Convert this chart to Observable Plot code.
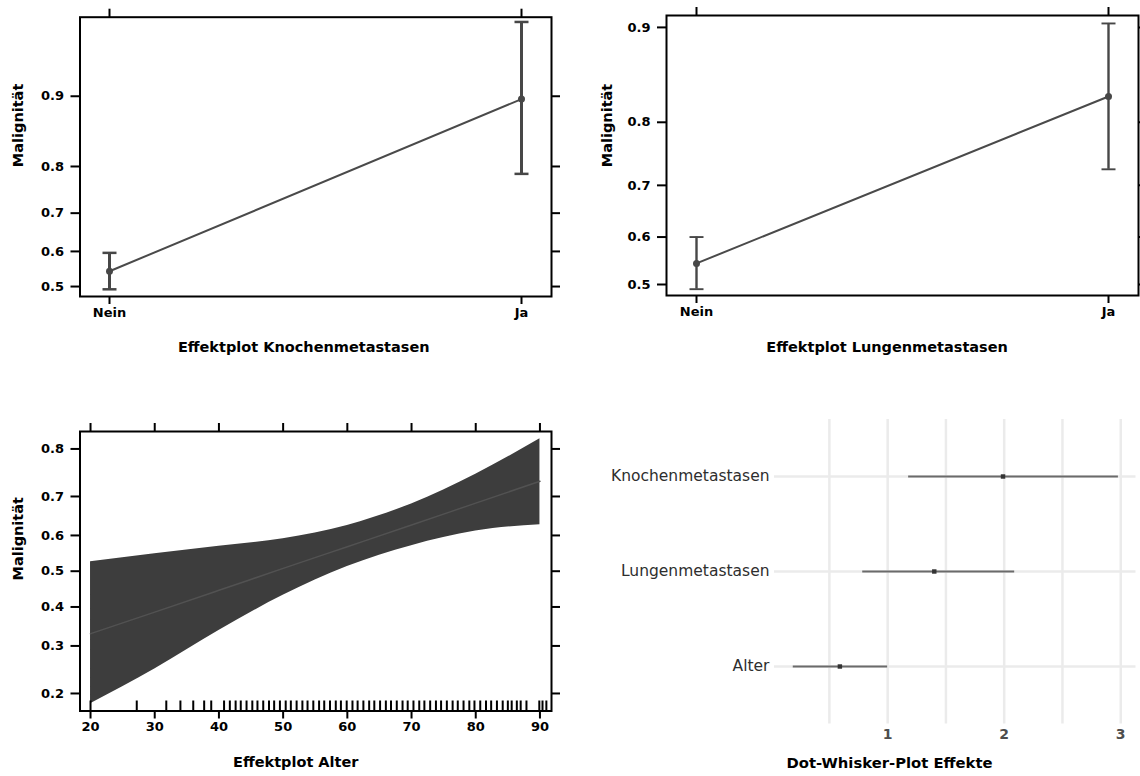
<!DOCTYPE html>
<html><head><meta charset="utf-8">
<script src="https://cdn.jsdelivr.net/npm/d3@7"></script>
<script src="https://cdn.jsdelivr.net/npm/@observablehq/plot@0.6"></script>
<style>
body{margin:0;background:#fff;}
#root{position:relative;width:1140px;height:776px;overflow:hidden;background:#fff;}
.panel{position:absolute;}
</style></head><body><div id="root"></div>
<script>
// ---- data ----
const categories = ["Nein", "Ja"];
const malignTicksKnochen = [0.5, 0.6, 0.7, 0.8, 0.9];
const knochenFit = [0.544, 0.897];
const knochenLower = [0.492, 0.786];
const knochenUpper = [0.596, 0.955];

const malignTicksLungen = [0.5, 0.6, 0.7, 0.8, 0.9];
const lungenFit = [0.545, 0.833];
const lungenLower = [0.490, 0.728];
const lungenUpper = [0.600, 0.903];

const ageGrid = [20, 30, 40, 50, 60, 70, 80, 90];
const ageFit = [0.330, 0.386, 0.446, 0.508, 0.569, 0.628, 0.684, 0.735];
const ageLower = [0.182, 0.248, 0.338, 0.432, 0.513, 0.572, 0.612, 0.629];
const ageUpper = [0.527, 0.549, 0.570, 0.591, 0.627, 0.682, 0.750, 0.818];
const ageTicks = [20, 30, 40, 50, 60, 70, 80, 90];
const malignTicksAlter = [0.2, 0.3, 0.4, 0.5, 0.6, 0.7, 0.8];
const rugAges = [20, 27.2, 31.8, 34, 36, 37.7, 38.8, 40.8, 41.7, 42.6, 43.4, 44.3, 45.2, 46.0,
  46.9, 47.8, 48.6, 49.5, 50.4, 51.2, 52.1, 53.0, 53.8, 54.7, 55.6, 56.4, 57.3, 58.2, 59.0,
  59.9, 60.8, 61.6, 62.5, 63.4, 64.2, 65.1, 66.0, 66.8, 67.7, 68.6, 69.4, 70.3, 71.2, 72.0,
  72.9, 73.8, 74.6, 75.5, 76.4, 77.2, 78.1, 79.0, 79.8, 80.7, 81.6, 82.4, 83.3, 84.2, 85.0,
  85.6, 86.4, 87.0, 87.9, 89.9, 90.4, 91.0];

const terms = ["Knochenmetastasen", "Lungenmetastasen", "Alter"];
const estimate = [1.99, 1.40, 0.59];
const confLow = [1.18, 0.786, 0.19];
const confHigh = [2.98, 2.09, 1.00];
const effectGridTicks = [0.5, 1, 1.5, 2, 2.5, 3];
const effectTickLabels = [1, 2, 3];

// ---- helpers ----
const logit = p => Math.log(p / (1 - p));
const invlogit = v => 1 / (1 + Math.exp(-v));
const fmt1 = v => invlogit(v).toFixed(1);
const blank = () => "";
const FONT = "DejaVu Sans";
const root = document.getElementById("root");
// horizontal cap symbol for error bars (half-width = r)
const capSymbol = {
  draw(ctx, size) {
    const w = Math.sqrt(size / Math.PI);
    ctx.moveTo(-w, 0);
    ctx.lineTo(w, 0);
  }
};

function place(svg, left, top) {
  const d = document.createElement("div");
  d.className = "panel";
  d.style.left = left + "px";
  d.style.top = top + "px";
  d.appendChild(svg);
  root.appendChild(d);
}

function factorPanel(cfg) {
  const rows = categories.map((c, i) => ({cat: c, fit: cfg.fit[i], lo: cfg.lower[i], hi: cfg.upper[i]}));
  const yt = cfg.yTicks.map(logit);
  return Plot.plot({
    width: 570, height: 370,
    marginLeft: cfg.ml, marginRight: cfg.mr, marginTop: cfg.mt, marginBottom: cfg.mb,
    style: {fontFamily: FONT, fontWeight: "bold", fontSize: "13px", color: "black", background: "white", overflow: "visible"},
    x: {type: "point", domain: categories, padding: cfg.pad},
    y: {domain: cfg.yDomain},
    marks: [
      Plot.line(rows, {x: "cat", y: d => logit(d.fit), stroke: "#4a4a4a", strokeWidth: cfg.lw}),
      Plot.ruleX(rows, {x: "cat", y1: d => logit(d.lo), y2: d => logit(d.hi), stroke: "#474747", strokeWidth: cfg.ew}),
      Plot.dot(rows, {x: "cat", y: d => logit(d.lo), symbol: capSymbol, r: 7, fill: "none", stroke: "#474747", strokeWidth: cfg.ew - 0.5}),
      Plot.dot(rows, {x: "cat", y: d => logit(d.hi), symbol: capSymbol, r: 7, fill: "none", stroke: "#474747", strokeWidth: cfg.ew - 0.5}),
      Plot.dot(rows, {x: "cat", y: d => logit(d.fit), r: 3.5, fill: "#474747"}),
      Plot.axisY(yt, {anchor: "left", tickFormat: fmt1, tickSize: 9, tickPadding: 7, strokeWidth: 2, label: null}),
      Plot.axisY(yt, {anchor: "right", tickFormat: blank, tickSize: 8, strokeWidth: 2, label: null}),
      Plot.axisX({anchor: "bottom", tickSize: 8, tickPadding: 3, strokeWidth: 2, label: null}),
      Plot.axisX({anchor: "top", tickFormat: blank, tickSize: 9, strokeWidth: 2, label: null}),
      Plot.frame({stroke: "black", strokeWidth: 2}),
      Plot.text(["Malignität"], {frameAnchor: "left", rotate: -90, dx: cfg.ylDx, dy: cfg.ylDy, fontSize: 14.5}),
      Plot.text([cfg.xLabel], {frameAnchor: "bottom", dx: cfg.xlDx, dy: cfg.xlDy, lineAnchor: "middle", fontSize: 14.5})
    ]
  });
}

place(factorPanel({
  fit: knochenFit, lower: knochenLower, upper: knochenUpper, yTicks: malignTicksKnochen,
  yDomain: [-0.115, 3.11], pad: 0.071, lw: 2, ew: 3,
  ml: 79.5, mr: 19, mt: 16.7, mb: 74,
  ylDx: -61.5, ylDy: 10.3, xlDx: -12, xlDy: 51,
  xLabel: "Effektplot Knochenmetastasen"
}), 0, 0);

place(factorPanel({
  fit: lungenFit, lower: lungenLower, upper: lungenUpper, yTicks: malignTicksLungen,
  yDomain: [-0.094, 2.299], pad: 0.0715, lw: 2, ew: 2.4,
  ml: 96, mr: 2, mt: 15, mb: 75,
  ylDx: -59.6, ylDy: 11.7, xlDx: -15.4, xlDy: 51.7,
  xLabel: "Effektplot Lungenmetastasen"
}), 570, 0);

// ---- Alter panel ----
{
  const band = ageGrid.map((a, i) => ({age: a, fit: ageFit[i], lo: ageLower[i], hi: ageUpper[i]}));
  const mt = 51, mb = 65.5, h = 396;
  const frameH = h - mt - mb;
  const yt = malignTicksAlter.map(logit);
  place(Plot.plot({
    width: 570, height: h,
    marginLeft: 79.5, marginRight: 19, marginTop: mt, marginBottom: mb,
    style: {fontFamily: FONT, fontWeight: "bold", fontSize: "13px", color: "black", background: "white", overflow: "visible"},
    x: {domain: [18.36, 91.8]},
    y: {domain: [-1.585, 1.584]},
    marks: [
      Plot.areaY(band, {x: "age", y1: d => logit(d.lo), y2: d => logit(d.hi), fill: "#3d3d3d", curve: "monotone-x"}),
      Plot.line(band, {x: "age", y: d => logit(d.fit), stroke: "#525252", strokeWidth: 1.5, curve: "monotone-x"}),
      Plot.tickX(rugAges, {x: d => d, insetTop: frameH - 10, stroke: "black", strokeWidth: 2}),
      Plot.axisY(yt, {anchor: "left", tickFormat: fmt1, tickSize: 9, tickPadding: 7, strokeWidth: 2, label: null}),
      Plot.axisY(yt, {anchor: "right", tickFormat: blank, tickSize: 8, strokeWidth: 2, label: null}),
      Plot.axisX(ageTicks, {anchor: "bottom", tickSize: 8, tickPadding: 3, strokeWidth: 2, label: null}),
      Plot.axisX(ageTicks, {anchor: "top", tickFormat: blank, tickSize: 9, strokeWidth: 2, label: null}),
      Plot.frame({stroke: "black", strokeWidth: 2}),
      Plot.text(["Malignität"], {frameAnchor: "left", rotate: -90, dx: -61.5, dy: 9.25, fontSize: 14.5}),
      Plot.text(["Effektplot Alter"], {frameAnchor: "bottom", dx: -20, dy: 51.2, lineAnchor: "middle", fontSize: 14.5})
    ]
  }), 0, 380);
}

// ---- Dot-whisker panel ----
{
  const rows = terms.map((t, i) => ({term: t, est: estimate[i], lo: confLow[i], hi: confHigh[i]}));
  place(Plot.plot({
    width: 570, height: 396,
    marginLeft: 204, marginRight: 4.5, marginTop: 39, marginBottom: 52.6,
    style: {fontFamily: FONT, fontSize: "15px", color: "#333", background: "white", overflow: "visible"},
    x: {domain: [0.029, 3.131]},
    y: {type: "point", domain: terms, padding: 0.6},
    marks: [
      Plot.gridX(effectGridTicks, {stroke: "#ebebeb", strokeOpacity: 1, strokeWidth: 2.5}),
      Plot.gridY(terms, {stroke: "#ebebeb", strokeOpacity: 1, strokeWidth: 2.5}),
      Plot.ruleY(rows, {y: "term", x1: "lo", x2: "hi", stroke: "#6b6b6b", strokeWidth: 2}),
      Plot.dot(rows, {x: "est", y: "term", symbol: "square", r: 2.5, fill: "#333"}),
      Plot.axisY({tickSize: 0, tickPadding: 5, fontSize: 15.5, fill: "#2e2e2e", label: null}),
      Plot.axisX(effectTickLabels, {tickSize: 0, tickPadding: 5, tickFormat: d => String(d), fontSize: 14, fill: "#4d4d4d", fontWeight: "bold", label: null}),
      Plot.text(["Dot-Whisker-Plot Effekte"], {frameAnchor: "bottom", dx: -65.75, dy: 39.6, lineAnchor: "middle", fontSize: 14.8, fontWeight: "bold", fill: "black"})
    ]
  }), 570, 380);
}
</script></body></html>
